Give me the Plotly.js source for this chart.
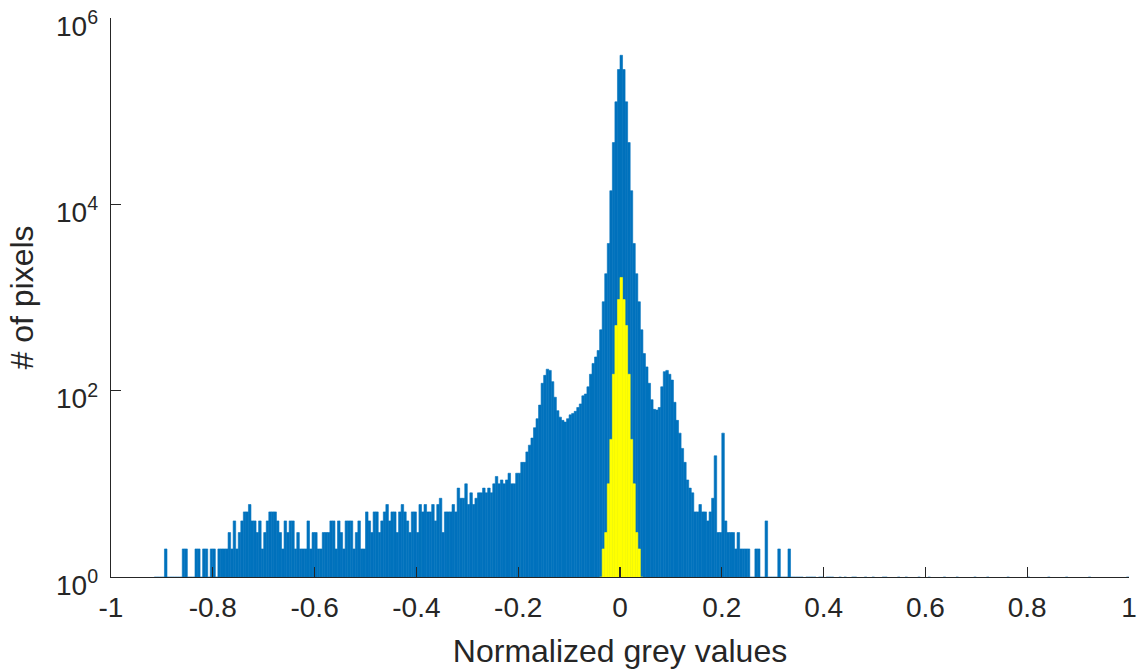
<!DOCTYPE html>
<html>
<head>
<meta charset="utf-8">
<script src="https://cdn.plot.ly/plotly-3.0.1.min.js"></script>
<style>
  html, body { margin: 0; padding: 0; background: #ffffff; }
  #chart { width: 1138px; height: 672px; }
</style>
</head>
<body>
<div id="chart"></div>
<script>
// Histogram bin geometry (bins of width 0.005 on [-1, 1])
const binStart = -0.9975;   // centre of first bin
const binWidth = 0.005;

// Blue histogram: counts per bin (null = empty bin)
const allPixelCounts = [
  null,null,null,null,null,null,null,null,null,null,null,null,null,null,null,null,null,
  1,1,1,1,
  2,
  1,1,1,1,1,1,
  2,2,
  1,1,1,
  2,2,
  1,
  2,2,
  1,
  2,2,
  1,
  2,2,2,2,
  3,2,4,2,3,4,5,5,6,4,4,3,4,2,3,4,5,5,5,4,3,2,4,3,4,4,2,3,2,2,2,4,2,3,3,2,
  2,3,3,3,4,4,2,4,3,2,4,4,4,2,3,4,2,2,5,4,3,5,5,3,4,5,6,4,5,5,3,5,6,5,4,3,5,5,3,6,5,6,5,5,6,4,6,7,3,5,5,5,6,5,9,7,7,10,6,8,6,7,8,8,9,8,9,8,
  10,12,10,11,10,11,13,10,10,13,13,17,17,22,26,31,40,50,70,120,146,170,165,125,85,61,52,48,46,50,55,57,60,66,72,88,92,110,150,196,230,270,450,900,1800,3800,14000,46000,126000,280000,
  398000,280000,126000,46000,14000,3800,1800,900,450,
  250,180,120,80,63,62,66,110,160,165,150,130,75,48,35,24,17,11,9,8,5,5,6,5,5,4,5,7,20,3,3,35,4,3,3,3,2,3,2,2,2,2,
  1,1,2,2,1,1,4,1,1,1,1,2,1,1,1,2,
  1,1,1,1,1,null,1,1,1,1,null,1,1,null,1,1,1,null,null,1,null,1,null,null,1,1,null,null,null,1,
  null,null,1,null,null,null,1,1,null,null,null,null,1,null,null,1,null,null,null,null,1,null,null,null,1,null,null,null,null,null,
  1,null,null,null,null,1,null,null,null,null,null,null,1,null,null,null,null,1,null,null,null,null,null,null,null,1,null,null,null,null,
  null,null,null,1,null,null,null,null,null,null,null,1,null,null,null,null,null,null,1,null,null,null,null,null,null,null,null,1,null,null,
  null,null,null,null,null,null,null,null,null,null,null,null,1
];

// Yellow histogram: counts for bins centred from -0.0375 to 0.0425
const yellowStart = -0.0375;
const selectedPixelCounts = [1,2,3,10,30,150,500,950,1640,950,500,150,30,10,3,2,1];

// Axis ticks
const xTickVals = [-1,-0.8,-0.6,-0.4,-0.2,0,0.2,0.4,0.6,0.8,1];
const xTickText = ['-1','-0.8','-0.6','-0.4','-0.2','0','0.2','0.4','0.6','0.8','1'];
const yTickVals = [1,100,10000,1000000];
const yTickText = ['10<sup>0</sup>','10<sup>2</sup>','10<sup>4</sup>','10<sup>6</sup>'];

const blue = '#0072BD';
const yellow = '#FFFF00';
const axisColor = '#262626';
const fontFam = 'Liberation Sans, Arial, Helvetica, sans-serif';

const traces = [
  {
    type: 'bar',
    x0: binStart, dx: binWidth,
    y: allPixelCounts,
    marker: { color: blue, line: { color: blue, width: 0.6 } },
    hoverinfo: 'x+y',
    showlegend: false
  },
  {
    type: 'bar',
    x0: yellowStart, dx: binWidth,
    y: selectedPixelCounts,
    marker: { color: yellow, line: { color: yellow, width: 0.6 } },
    hoverinfo: 'x+y',
    showlegend: false
  }
];

const layout = {
  width: 1138, height: 672,
  margin: { l: 111, r: 9, t: 18, b: 95 },
  paper_bgcolor: '#ffffff', plot_bgcolor: '#ffffff',
  barmode: 'overlay', bargap: 0,
  font: { family: fontFam, color: axisColor },
  xaxis: {
    range: [-1, 1],
    tickmode: 'array', tickvals: xTickVals, ticktext: xTickText,
    ticks: 'inside', ticklen: 10, tickwidth: 1.3, tickcolor: axisColor,
    showline: true, linecolor: axisColor, linewidth: 1.3,
    showgrid: false, zeroline: false,
    tickfont: { family: fontFam, size: 28, color: axisColor },
    ticklabelstandoff: 5, ticklabeloverflow: 'allow',
    title: { text: 'Normalized grey values', font: { family: fontFam, size: 32, color: axisColor }, standoff: 17 },
    automargin: false, layer: 'above traces'
  },
  yaxis: {
    type: 'log', range: [0, 6],
    tickmode: 'array', tickvals: yTickVals, ticktext: yTickText,
    ticks: 'inside', ticklen: 10, tickwidth: 1.3, tickcolor: axisColor,
    showline: true, linecolor: axisColor, linewidth: 1.3,
    showgrid: false, zeroline: false,
    tickfont: { family: fontFam, size: 28, color: axisColor },
    ticklabelstandoff: 6, ticklabelshift: 8, ticklabeloverflow: 'allow',
    title: { text: '# of pixels', font: { family: fontFam, size: 32, color: axisColor }, standoff: 12 },
    automargin: false, layer: 'above traces'
  }
};

Plotly.newPlot('chart', traces, layout, { displayModeBar: false, staticPlot: true });
</script>
</body>
</html>
